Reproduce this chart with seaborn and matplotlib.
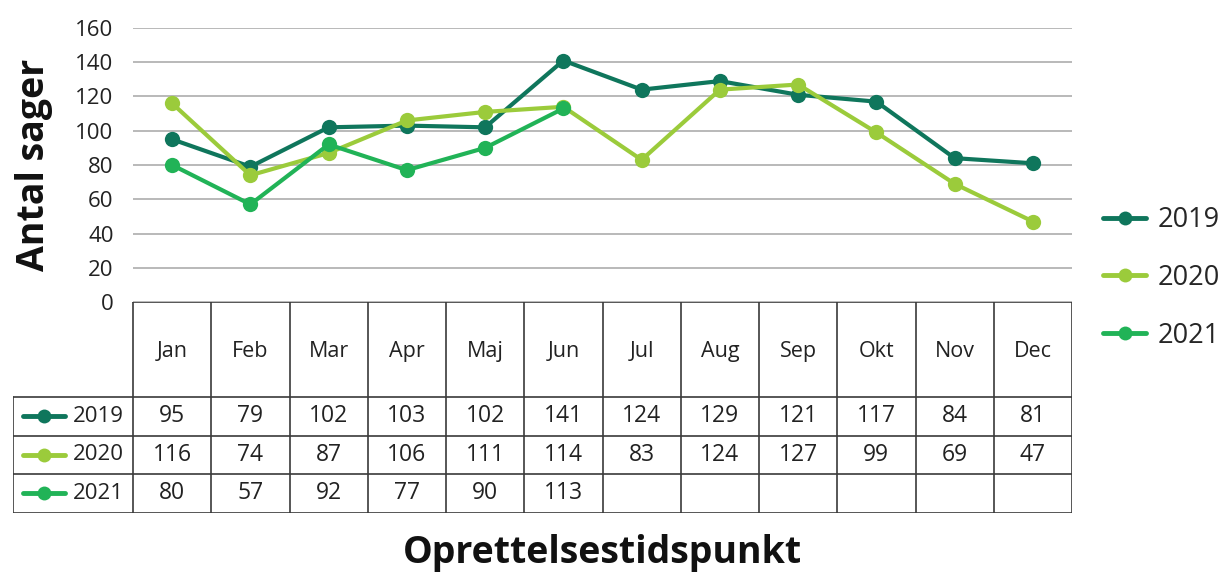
import numpy as np
import pandas as pd
import matplotlib
matplotlib.use("Agg")
import matplotlib.pyplot as plt
from matplotlib.lines import Line2D
import seaborn as sns

# Data
months = ["Jan", "Feb", "Mar", "Apr", "Maj", "Jun", "Jul", "Aug", "Sep", "Okt", "Nov", "Dec"]
years = ["2019", "2020", "2021"]
v2019 = [95, 79, 102, 103, 102, 141, 124, 129, 121, 117, 84, 81]
v2020 = [116, 74, 87, 106, 111, 114, 83, 124, 127, 99, 69, 47]
v2021 = [80, 57, 92, 77, 90, 113]
yticks = [0, 20, 40, 60, 80, 100, 120, 140, 160]

colors = {"2019": "#0f765c", "2020": "#9bcb3b", "2021": "#21b357"}

series = {"2019": v2019, "2020": v2020, "2021": v2021}
rows = []
for yr, vals in series.items():
    for i, v in enumerate(vals):
        rows.append({"Måned": i, "År": yr, "Antal": v})
df = pd.DataFrame(rows)

sns.set_theme(style="white")
plt.rcParams["font.family"] = ["Open Sans", "DejaVu Sans"]

W, H = 1222, 574
fig = plt.figure(figsize=(W / 100, H / 100), dpi=100)

# pixel layout
px_left, px_right = 133, 1072
px_top, px_zero = 28, 302
tbl_left, tbl_bottom = 13, 513
hdr_bottom = 397
row_edges = [397, 436, 474, 513]

ax = fig.add_axes([px_left / W, 1 - px_zero / H, (px_right - px_left) / W, (px_zero - px_top) / H])
sns.lineplot(data=df, x="Måned", y="Antal", hue="År", palette=colors, marker="o",
             markersize=11, markeredgewidth=0, linewidth=3, legend=False, ax=ax)
ax.set_xlim(-0.5, 11.5)
ax.set_ylim(0, 160)
ax.set_yticks(yticks)
ax.tick_params(axis="y", labelsize=16, colors="#222222", pad=14, length=0)
ax.set_xticks([])
ax.set_xlabel("")
ax.set_ylabel("Antal sager", fontsize=27, fontweight="bold", labelpad=16, color="#111111")
ax.grid(axis="y", color="#a6a6a6", linewidth=1.1)
for s in ax.spines.values():
    s.set_visible(False)

# data table
col_w = (px_right - px_left) / 12
x_min = -0.5 - (px_left - tbl_left) / col_w
axt = fig.add_axes([tbl_left / W, 1 - tbl_bottom / H, (px_right - tbl_left) / W, (tbl_bottom - px_zero) / H])
axt.set_xlim(x_min, 11.5)
axt.set_ylim(tbl_bottom, px_zero)
axt.axis("off")
lc, lw = "#3a3a3a", 1.2
axt.plot([-0.5, 11.5], [px_zero, px_zero], color=lc, lw=lw)
for y in row_edges:
    axt.plot([x_min, 11.5], [y, y], color=lc, lw=lw)
for k in range(13):
    axt.plot([k - 0.5, k - 0.5], [px_zero, tbl_bottom], color=lc, lw=lw)
axt.plot([x_min, x_min], [hdr_bottom, tbl_bottom], color=lc, lw=lw)

for i, m in enumerate(months):
    axt.text(i, (px_zero + hdr_bottom) / 2 + 2, m, ha="center", va="center", fontsize=15.5, color="#222222")
for r, yr in enumerate(years):
    yc = (row_edges[r] + row_edges[r + 1]) / 2
    k0 = x_min + 10 / col_w
    axt.plot([k0, k0 + 42 / col_w], [yc, yc], color=colors[yr], lw=3.5, solid_capstyle="round")
    axt.plot([k0 + 21 / col_w], [yc], "o", color=colors[yr], ms=10, mec="none")
    axt.text(x_min + 60 / col_w, yc, yr, ha="left", va="center", fontsize=16, color="#222222")
    for i, v in enumerate(series[yr]):
        axt.text(i, yc, str(v), ha="center", va="center", fontsize=16.5, color="#222222")

fig.text((px_left + px_right) / 2 / W, 1 - 553 / H, "Oprettelsestidspunkt", ha="center", va="center",
         fontsize=27, fontweight="bold", color="#111111")

handles = [Line2D([0], [0], color=colors[y], lw=3.5, marker="o", ms=10, mec="none") for y in years]
fig.legend(handles, years, loc="upper left", bbox_to_anchor=(1103 / W, 1 - 206 / H), frameon=False,
           fontsize=19.5, labelspacing=1.1, handlelength=1.6, handletextpad=0.4,
           borderpad=0, borderaxespad=0)

fig.savefig("out.png", dpi=100)
